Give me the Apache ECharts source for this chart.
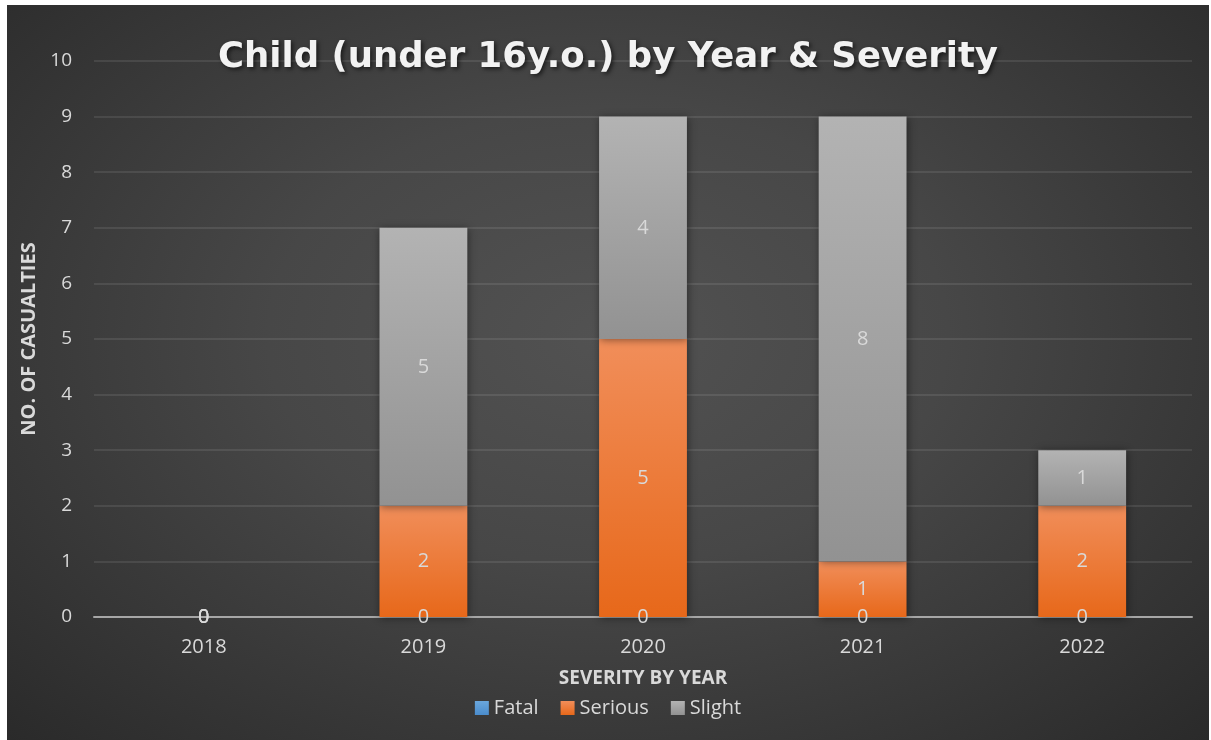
<!DOCTYPE html>
<html>
<head>
<meta charset="utf-8">
<script src="https://cdn.jsdelivr.net/npm/echarts@6/dist/echarts.min.js"></script>
<style>
  html, body { margin: 0; padding: 0; background: #ffffff; width: 1211px; height: 740px; overflow: hidden; }
  #chart {
    position: absolute; left: 7px; top: 5px; width: 1202px; height: 735px;
    background: radial-gradient(ellipse farthest-corner at 50% 45%, #525252 0%, #474747 40%, #2a2a2a 100%);
  }
</style>
</head>
<body>
<div id="chart"></div>
<script>
// Child casualties (under 16) by year, split by severity
const years = ['2018', '2019', '2020', '2021', '2022'];
const fatal = [0, 0, 0, 0, 0];
const serious = [0, 2, 5, 1, 2];
const slight = [0, 5, 4, 8, 1];
const yTicks = { min: 0, max: 10, interval: 1 };

const FONT = 'Open Sans';
const TXT = '#d9d9d9';

function vGrad(top, bottom) {
  return new echarts.graphic.LinearGradient(0, 0, 0, 1, [
    { offset: 0, color: top },
    { offset: 1, color: bottom }
  ]);
}

const barLabel = {
  show: true,
  position: 'inside',
  color: TXT,
  fontFamily: FONT,
  fontSize: 20
};

function barSeries(name, data, top, bottom) {
  return {
    name: name,
    type: 'bar',
    stack: 'total',
    data: data,
    barWidth: '40%',
    label: barLabel,
    itemStyle: {
      color: vGrad(top, bottom),
      shadowColor: 'rgba(0,0,0,0.45)',
      shadowBlur: 8,
      shadowOffsetX: 1,
      shadowOffsetY: 1
    },
    emphasis: { disabled: true }
  };
}

const chart = echarts.init(document.getElementById('chart'), null, { renderer: 'canvas' });
chart.setOption({
  backgroundColor: 'transparent',
  animation: false,
  title: {
    text: 'Child (under 16y.o.) by Year & Severity',
    left: 'center',
    top: 30,
    textStyle: {
      color: '#f2f2f2',
      fontFamily: 'DejaVu Sans',
      fontWeight: 'bold',
      fontSize: 35.5,
      textShadowColor: 'rgba(0,0,0,0.6)',
      textShadowBlur: 4,
      textShadowOffsetX: 2,
      textShadowOffsetY: 2
    }
  },
  legend: {
    data: ['Fatal', 'Serious', 'Slight'],
    bottom: 17,
    left: 'center',
    itemWidth: 14,
    itemHeight: 14,
    itemGap: 22,
    icon: 'rect',
    textStyle: { color: TXT, fontFamily: FONT, fontSize: 20 }
  },
  grid: { left: 87, right: 17, top: 56, bottom: 123, containLabel: false },
  xAxis: {
    type: 'category',
    data: years,
    name: 'SEVERITY BY YEAR',
    nameLocation: 'middle',
    nameGap: 52,
    nameTextStyle: { color: TXT, fontFamily: FONT, fontWeight: 'bold', fontSize: 19 },
    axisLine: { lineStyle: { color: '#a6a6a6', width: 2 } },
    axisTick: { show: false },
    axisLabel: { color: TXT, fontFamily: FONT, fontSize: 20, margin: 20 }
  },
  yAxis: {
    type: 'value',
    min: yTicks.min,
    max: yTicks.max,
    interval: yTicks.interval,
    name: 'NO. OF CASUALTIES',
    nameLocation: 'middle',
    nameGap: 54,
    nameTextStyle: { color: TXT, fontFamily: FONT, fontWeight: 'bold', fontSize: 20 },
    axisLine: { show: false },
    axisTick: { show: false },
    axisLabel: { color: TXT, fontFamily: FONT, fontSize: 19, margin: 22 },
    splitLine: { lineStyle: { color: 'rgba(255,255,255,0.09)', width: 2 } }
  },
  series: [
    barSeries('Fatal', fatal, '#6aa7dd', '#4a8ccc'),
    barSeries('Serious', serious, '#f18e5a', '#e7681a'),
    barSeries('Slight', slight, '#b3b3b3', '#929292')
  ]
});
</script>
</body>
</html>
